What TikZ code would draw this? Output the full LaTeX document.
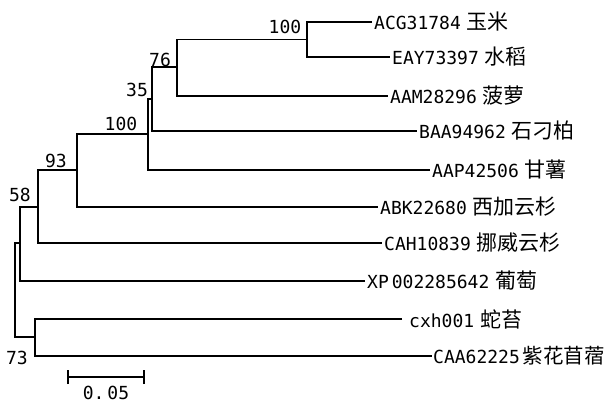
\documentclass[tikz,border=0pt]{standalone}
\usepackage{fontspec}
\newfontfamily\latf{DejaVu Sans Mono}
\newfontfamily\cjkf{Noto Sans CJK SC}
\newcommand\latsz{\latf\fontsize{18}{20}\selectfont}
\newcommand\cjksz{\cjkf\fontsize{21}{23}\selectfont}
\newcommand\leaflab[2]{{\latsz #1}\hspace{6pt}{\cjksz #2}}
\tikzset{
  br/.style={line width=1.1pt, black},
  leaflbl/.style={anchor=west, inner sep=2pt},
  boot/.style={inner sep=0pt, font=\latsz},
}
\begin{document}
\begin{tikzpicture}[x=1pt, y=-1pt]
\useasboundingbox (0,0) rectangle (607,403);
% leaf ends
\coordinate (l1) at (372,22);
\coordinate (l2) at (390,57);
\coordinate (l3) at (388,96);
\coordinate (l4) at (417,131);
\coordinate (l5) at (430,170);
\coordinate (l6) at (378,207);
\coordinate (l7) at (382,243);
\coordinate (l8) at (365,281);
\coordinate (l9) at (402,319);
\coordinate (l10) at (432,356);
% internal nodes
\coordinate (na) at (307,39.5);  % 100
\coordinate (nb) at (177,67);    % 76
\coordinate (nc) at (152,99);    % 35
\coordinate (nd) at (148,134);   % 100
\coordinate (ne) at (77,170);    % 93
\coordinate (nf) at (38,207);    % 58
\coordinate (ng) at (20,243);
\coordinate (nh) at (35,337);    % 73
\coordinate (nr) at (15,290);    % root
% tree
\draw[br] (l1) -| (na) |- (l2);
\draw[br] (na) -| (nb) |- (l3);
\draw[br] (nb |- na) -- (nb);
\draw[br] (nb) -| (nc) |- (l4);
\draw[br] (nc) -| (nd) |- (l5);
\draw[br] (nd |- nc) -- (nd);
\draw[br] (nd) -| (ne) |- (l6);
\draw[br] (ne |- nd) -- (ne);
\draw[br] (ne) -| (nf) |- (l7);
\draw[br] (nf |- ne) -- (nf);
\draw[br] (nf) -| (ng) |- (l8);
\draw[br] (ng |- nf) -- (ng);
\draw[br] (l9) -| (nh) |- (l10);
\draw[br] (ng) -| (nr |- ng) -- (nr |- nh) -- (nh);
% leaf labels
\node[leaflbl] (t1) at (l1) {\leaflab{ACG31784}{玉米}};
\node[leaflbl] (t2) at (l2) {\leaflab{EAY73397}{水稻}};
\node[leaflbl] (t3) at (l3) {\leaflab{AAM28296}{菠萝}};
\node[leaflbl] (t4) at (l4) {\leaflab{BAA94962}{石刁柏}};
\node[leaflbl] (t5) at (l5) {\leaflab{AAP42506}{甘薯}};
\node[leaflbl] (t6) at (l6) {\leaflab{ABK22680}{西加云杉}};
\node[leaflbl] (t7) at (l7) {\leaflab{CAH10839}{挪威云杉}};
\node[leaflbl] (t8) at (l8) {{\latsz XP\hspace{3pt}002285642}\hspace{6pt}{\cjksz 葡萄}};
\node[leaflbl] (t9) at (l9) {\hspace{5pt}\leaflab{cxh001}{蛇苔}};
\node[leaflbl, inner sep=1pt] (t10) at (l10) {{\latsz CAA62225}\hspace{3pt}{\cjkf\fontsize{20.5}{23}\selectfont 紫花苜蓿}};
% bootstrap values
\node[boot] (b1) at (285,27) {100};
\node[boot] (b2) at (160,60) {76};
\node[boot] (b3) at (137,90) {35};
\node[boot] (b4) at (121,124) {100};
\node[boot] (b5) at (56,161) {93};
\node[boot] (b6) at (20,195) {58};
\node[boot] (b7) at (17,358) {73};
% scale bar
\coordinate (s1) at (68,377);
\coordinate (s2) at (144,377);
\draw[br] (s1) -- (s2);
\draw[br] ([yshift=-7pt]s1) -- ([yshift=7pt]s1);
\draw[br] ([yshift=-7pt]s2) -- ([yshift=7pt]s2);
\node[boot] (sl) at (106,393) {0.\,05};
\end{tikzpicture}
\end{document}
